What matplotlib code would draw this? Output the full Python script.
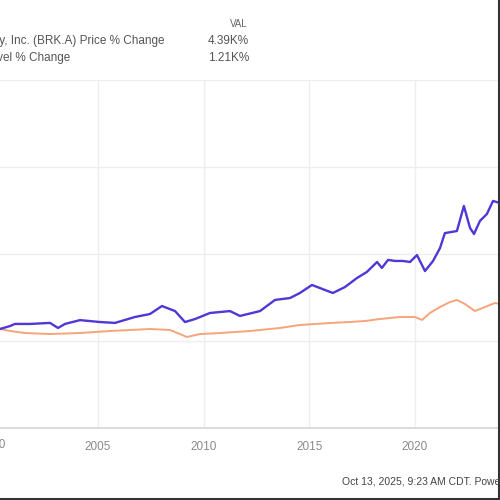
import matplotlib
matplotlib.use('Agg')
import matplotlib.pyplot as plt
from matplotlib.lines import Line2D

# Berkshire Hathaway price % change (decimal year, %)
brk_years = [2000.36, 2000.84, 2001.07, 2001.78, 2002.73, 2003.11, 2003.44, 2004.15,
             2005.10, 2005.81, 2006.75, 2007.46, 2008.03, 2008.65, 2009.12, 2009.59,
             2010.30, 2011.25, 2011.72, 2012.67, 2013.38, 2014.09, 2014.56, 2015.13,
             2015.75, 2016.12, 2016.69, 2017.26, 2017.73, 2018.21, 2018.44, 2018.73,
             2019.06, 2019.44, 2019.77, 2020.10, 2020.48, 2020.86, 2021.19, 2021.42,
             2021.99, 2022.32, 2022.61, 2022.80, 2023.08, 2023.41, 2023.70, 2024.03]
brk_pct = [345, 430, 490, 490, 520, 375, 490, 600,
           545, 520, 690, 775, 1005, 860, 545, 630,
           805, 860, 720, 860, 1180, 1235, 1380, 1610,
           1465, 1380, 1550, 1810, 1985, 2270, 2100, 2330,
           2300, 2300, 2270, 2470, 2010, 2300, 2670, 3100,
           3160, 3880, 3250, 3075, 3450, 3650, 4025, 3965]

# S&P 500 total return level % change
spx_years = [2000.36, 2000.84, 2001.55, 2002.73, 2004.15, 2005.57, 2007.46, 2008.41,
             2008.88, 2009.21, 2009.83, 2010.78, 2012.20, 2013.62, 2014.56, 2015.98,
             2016.93, 2017.64, 2018.35, 2019.29, 2020.00, 2020.34, 2020.71, 2021.19,
             2021.66, 2021.99, 2022.37, 2022.84, 2023.32, 2023.79, 2024.03]
spx_pct = [345, 287, 230, 200, 230, 287, 345, 316,
           200, 115, 200, 230, 287, 375, 460, 517,
           546, 575, 632, 690, 690, 604, 805, 977,
           1120, 1178, 1063, 862, 977, 1092, 1063]

year_ticks = [2000, 2005, 2010, 2015, 2020]
pct_grid = [-2500, 0, 2500, 5000, 7500]

plt.rcParams['font.family'] = ['Liberation Sans', 'DejaVu Sans']

fig = plt.figure(figsize=(5, 5), dpi=100)
ax = fig.add_axes([0, 0.144, 1, 0.696])

ax.plot(spx_years, spx_pct, color='#f7a47a', linewidth=1.4)
ax.plot(brk_years, brk_pct, color='#5236d6', linewidth=1.7)

ax.set_xticks(year_ticks)
ax.set_xticklabels([str(y) for y in year_ticks])
ax.set_yticks(pct_grid)
# limits after the ticks, so the 2000 tick stays just off the left edge
ax.set_xlim(2000.364, 2024.03)
ax.set_ylim(-2500, 7500)
ax.tick_params(axis='y', left=False, labelleft=False)
ax.tick_params(axis='x', length=0, pad=9, labelsize=8.5, labelcolor='#8a8a8a')
ax.grid(True, color='#eeeeee', linewidth=1)
ax.set_axisbelow(True)
for side in ['top', 'left', 'right']:
    ax.spines[side].set_visible(False)
ax.spines['bottom'].set_color('#d6d6d6')
ax.spines['bottom'].set_linewidth(1.2)

# the 2000 label sits mostly past the left edge; matplotlib drops it, so place it by hand
x2000 = ax.transData.transform((year_ticks[0], 0))[0] / fig.bbox.width
fig.text(x2000, 1 - 445 / 500, str(year_ticks[0]), ha='center', va='center',
         fontsize=8.5, color='#8a8a8a')


def px(x, y):
    return x / 500, 1 - y / 500


# legend block (cut off at the left edge like the reference)
fig.text(*px(248, 24), 'VAL', ha='right', va='center', fontsize=7, color='#666666')
fig.text(*px(165, 41), 'Berkshire Hathaway, Inc. (BRK.A) Price % Change',
         ha='right', va='center', fontsize=8.5, color='#555555')
fig.text(*px(249, 41), '4.39K%', ha='right', va='center', fontsize=8.5, color='#555555')
fig.text(*px(70, 58), 'S&P 500 Total Return Level % Change',
         ha='right', va='center', fontsize=8.5, color='#555555')
fig.text(*px(249, 58), '1.21K%', ha='right', va='center', fontsize=8.5, color='#555555')

fig.text(*px(342, 482), 'Oct 13, 2025, 9:23 AM CDT. Powered by YCHARTS',
         ha='left', va='center', fontsize=7.5, color='#444444')

# dark frame on the right and bottom edges
fig.add_artist(Line2D([0.997, 0.997], [0, 1], color='#333333', linewidth=2.2))
fig.add_artist(Line2D([0, 1], [0.003, 0.003], color='#333333', linewidth=2.2))

fig.savefig('out.png', dpi=100)
